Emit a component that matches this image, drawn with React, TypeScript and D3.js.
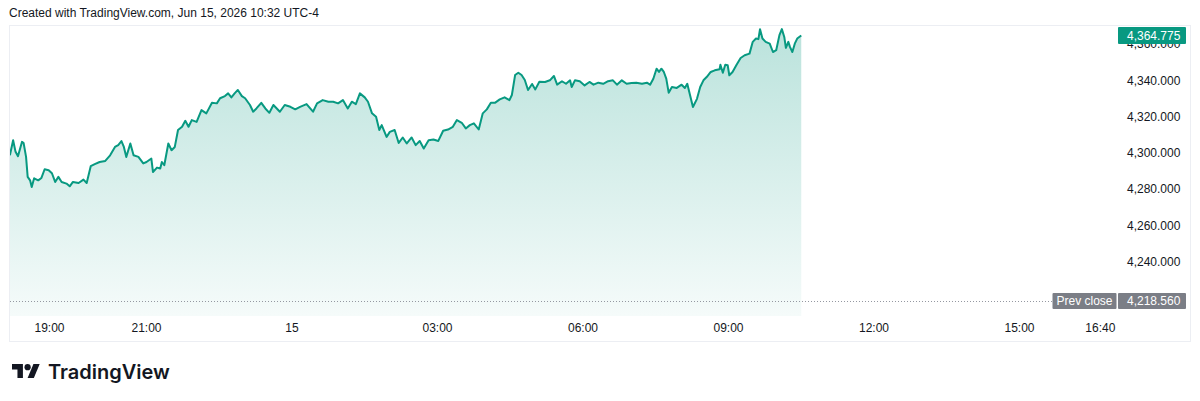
import React from "react";
import * as d3 from "d3";

// price samples, "HH:MM" in UTC-4; the session opens at 18:00 on Jun 14
const eveningSession: [string, number][] = [
  ["18:11", 4298.8], ["18:15", 4307.1], ["18:18", 4300.7], ["18:21", 4298.3], ["18:26", 4306.2],
  ["18:28", 4305.5], ["18:31", 4297.9], ["18:33", 4286.9], ["18:36", 4285.0], ["18:38", 4281.3],
  ["18:41", 4286.1], ["18:46", 4285.0], ["18:50", 4286.3], ["18:54", 4291.1], ["18:59", 4290.6],
  ["19:03", 4288.9], ["19:07", 4284.1], ["19:11", 4286.9], ["19:15", 4284.1], ["19:21", 4283.2],
  ["19:25", 4281.7], ["19:29", 4284.1], ["19:36", 4283.5], ["19:42", 4285.4], ["19:46", 4283.5],
  ["19:51", 4292.8], ["19:56", 4293.9], ["20:02", 4295.1], ["20:09", 4295.7], ["20:15", 4298.8],
  ["20:21", 4303.4], ["20:25", 4304.4], ["20:29", 4306.6], ["20:32", 4303.4], ["20:35", 4297.9],
  ["20:40", 4305.3], ["20:44", 4298.8], ["20:50", 4297.9], ["20:56", 4294.3], ["21:00", 4295.1],
  ["21:06", 4297.0], ["21:08", 4289.6], ["21:13", 4292.0], ["21:17", 4291.5], ["21:19", 4295.1],
  ["21:22", 4293.3], ["21:27", 4305.3], ["21:31", 4301.6], ["21:35", 4303.4], ["21:39", 4312.7],
  ["21:44", 4314.5], ["21:48", 4317.8], ["21:52", 4314.5], ["21:56", 4318.2], ["22:02", 4317.2],
  ["22:08", 4323.7], ["22:14", 4321.9], ["22:21", 4327.7], ["22:27", 4327.4], ["22:31", 4330.2],
  ["22:37", 4331.4], ["22:41", 4332.9], ["22:45", 4330.7], ["22:49", 4332.9], ["22:53", 4334.8],
  ["22:58", 4331.4], ["23:02", 4330.2], ["23:08", 4326.5], ["23:12", 4322.8], ["23:16", 4324.6],
  ["23:22", 4327.7], ["23:27", 4324.6], ["23:32", 4322.2], ["23:37", 4326.5], ["23:45", 4322.8],
  ["23:51", 4326.5], ["23:58", 4325.5]
];

const asiaSession: [string, number][] = [
  ["00:04", 4324.1], ["00:10", 4325.5], ["00:18", 4327.0], ["00:26", 4322.8], ["00:31", 4327.4],
  ["00:38", 4329.2], ["00:45", 4328.3], ["00:51", 4328.3], ["00:57", 4327.4], ["01:03", 4329.2],
  ["01:09", 4324.6], ["01:14", 4328.3], ["01:19", 4327.0], ["01:24", 4332.9], ["01:30", 4330.7],
  ["01:34", 4328.3], ["01:39", 4321.9], ["01:44", 4320.0], ["01:48", 4312.7], ["01:51", 4315.4],
  ["01:57", 4308.9], ["02:01", 4311.7], ["02:07", 4312.7], ["02:12", 4305.6], ["02:17", 4308.6],
  ["02:22", 4305.3], ["02:28", 4308.6], ["02:33", 4304.4], ["02:38", 4306.7], ["02:43", 4302.5],
  ["02:49", 4307.1], ["02:55", 4307.5], ["03:01", 4306.7], ["03:07", 4312.3], ["03:13", 4313.0],
  ["03:19", 4314.5], ["03:24", 4318.2], ["03:30", 4316.7], ["03:35", 4313.6], ["03:40", 4315.4],
  ["03:45", 4316.4], ["03:51", 4313.0], ["03:56", 4321.9], ["04:01", 4324.1], ["04:06", 4327.7],
  ["04:11", 4327.7], ["04:17", 4329.6], ["04:23", 4330.7], ["04:29", 4329.2], ["04:32", 4332.0],
  ["04:36", 4343.0], ["04:40", 4344.3], ["04:44", 4343.0], ["04:48", 4340.3], ["04:52", 4334.8],
  ["04:57", 4338.1], ["05:01", 4335.1], ["05:06", 4339.3], ["05:13", 4339.2], ["05:19", 4340.1],
  ["05:24", 4342.5], ["05:28", 4337.7], ["05:34", 4339.6], ["05:39", 4338.2], ["05:44", 4340.1],
  ["05:46", 4336.4], ["05:50", 4340.1], ["05:56", 4339.6]
];

const morningSession: [string, number][] = [
  ["06:02", 4337.3], ["06:08", 4339.2], ["06:13", 4337.7], ["06:19", 4338.8], ["06:25", 4338.2],
  ["06:31", 4339.6], ["06:37", 4340.1], ["06:42", 4337.7], ["06:48", 4340.1], ["06:54", 4338.2],
  ["07:00", 4338.6], ["07:06", 4338.8], ["07:13", 4338.2], ["07:19", 4338.8], ["07:23", 4337.7],
  ["07:27", 4341.0], ["07:31", 4346.5], ["07:34", 4344.7], ["07:37", 4346.5], ["07:40", 4344.7],
  ["07:43", 4341.0], ["07:46", 4333.3], ["07:50", 4336.4], ["07:56", 4335.9], ["08:02", 4337.7],
  ["08:06", 4335.9], ["08:09", 4338.2], ["08:12", 4332.7], ["08:16", 4325.4], ["08:21", 4329.9],
  ["08:25", 4336.4], ["08:29", 4340.1], ["08:33", 4341.9], ["08:38", 4344.7], ["08:43", 4345.6],
  ["08:49", 4346.2], ["08:50", 4348.7], ["08:53", 4344.3], ["08:56", 4348.7], ["08:59", 4348.4],
  ["09:01", 4342.9], ["09:05", 4344.7], ["09:10", 4348.7], ["09:15", 4352.4], ["09:20", 4353.9],
  ["09:26", 4354.8], ["09:30", 4361.3], ["09:34", 4363.1], ["09:37", 4362.8], ["09:39", 4368.3],
  ["09:42", 4363.1], ["09:46", 4361.3], ["09:51", 4360.3], ["09:55", 4355.7], ["09:59", 4356.7],
  ["10:03", 4365.0], ["10:06", 4368.3], ["10:09", 4364.0], ["10:11", 4358.0], ["10:14", 4361.3],
  ["10:16", 4358.5], ["10:19", 4355.7], ["10:22", 4360.3], ["10:25", 4363.1], ["10:30", 4364.775]
];

const priceTicks = [4360, 4340, 4320, 4300, 4280, 4260, 4240];
const timeTicks = ["19:00", "21:00", "00:00", "03:00", "06:00", "09:00", "12:00", "15:00", "16:40"];
const timeTickLabels = ["19:00", "21:00", "15", "03:00", "06:00", "09:00", "12:00", "15:00", "16:40"];
const prevClose = 4218.56;
const lastPrice = 4364.775;

const GREEN = "#089981";
const FONT = "'Liberation Sans', Arial, sans-serif";

function toDate(hhmm: string) {
  const [h, m] = hhmm.split(":").map(Number);
  // anything from 18:00 on belongs to the previous calendar day
  return new Date(2026, 5, h >= 18 ? 14 : 15, h, m);
}

export default function App() {
  const data = [...eveningSession, ...asiaSession, ...morningSession].map(d => ({
    t: toDate(d[0]),
    v: d[1]
  }));

  const plot = { left: 10, right: 1110, top: 26, bottom: 316 };

  const xScale = d3
    .scaleTime()
    .domain([new Date(2026, 5, 14, 18, 0), new Date(2026, 5, 15, 17, 0)])
    .range([1, 1 + 23 * 48.5]);

  const yScale = d3.scaleLinear().domain([4240, 4340]).range([262, 80.5]);
  const fmt = d3.format(",.3f");

  const line = d3
    .line<{ t: Date; v: number }>()
    .x(d => xScale(d.t))
    .y(d => yScale(d.v));

  const area = d3
    .area<{ t: Date; v: number }>()
    .x(d => xScale(d.t))
    .y0(plot.bottom)
    .y1(d => yScale(d.v));

  const lastY = yScale(lastPrice);
  const prevY = yScale(prevClose);

  return (
    <svg
      width={1200}
      height={401}
      style={{ position: "absolute", left: 0, top: 0, background: "#fff" }}
      fontFamily={FONT}
    >
      <defs>
        <linearGradient id="fill" x1="0" y1={plot.top} x2="0" y2={plot.bottom} gradientUnits="userSpaceOnUse">
          <stop offset="0%" stopColor={GREEN} stopOpacity={0.28} />
          <stop offset="100%" stopColor={GREEN} stopOpacity={0.04} />
        </linearGradient>
        <clipPath id="plotClip">
          <rect x={plot.left} y={plot.top} width={plot.right - plot.left} height={plot.bottom - plot.top} />
        </clipPath>
      </defs>

      <rect width={1200} height={401} fill="#fff" />

      <text x={9} y={17} fontSize={12} fill="#131722">
        Created with TradingView.com, Jun 15, 2026 10:32 UTC-4
      </text>

      {/* chart frame */}
      <rect x={9.5} y={25.5} width={1181} height={316} fill="none" stroke="#eceef3" />

      <g clipPath="url(#plotClip)">
        <path d={area(data) || ""} fill="url(#fill)" />
        <path d={line(data) || ""} fill="none" stroke={GREEN} strokeWidth={2} strokeLinejoin="round" />
      </g>

      {/* prev close dotted line */}
      <line
        x1={plot.left}
        x2={1052}
        y1={Math.round(prevY) + 0.5}
        y2={Math.round(prevY) + 0.5}
        stroke="#9598a1"
        strokeDasharray="1 2"
      />

      {/* price axis */}
      <g>
        {priceTicks.map(p => (
          <text key={p} x={1127} y={yScale(p)} dominantBaseline="central" fontSize={12} fill="#131722">
            {fmt(p)}
          </text>
        ))}
      </g>

      <g>
        <rect x={1118} y={lastY - 8.5} width={68} height={17} fill={GREEN} rx={1} />
        <text x={1127} y={lastY} dominantBaseline="central" fontSize={12} fill="#fff">
          {fmt(lastPrice)}
        </text>
      </g>

      <g>
        <rect x={1052.5} y={prevY - 8} width={64} height={16} fill="#7b7e86" rx={1} />
        <text x={1084.5} y={prevY} dominantBaseline="central" textAnchor="middle" fontSize={12} fill="#fff">
          Prev close
        </text>
        <rect x={1118} y={prevY - 8} width={68} height={16} fill="#7b7e86" rx={1} />
        <text x={1127} y={prevY} dominantBaseline="central" fontSize={12} fill="#fff">
          {fmt(prevClose)}
        </text>
      </g>

      {/* time axis */}
      <g>
        {timeTicks.map((t, i) => (
          <text
            key={t}
            x={xScale(toDate(t))}
            y={328}
            dominantBaseline="central"
            textAnchor="middle"
            fontSize={12}
            fill="#131722"
          >
            {timeTickLabels[i]}
          </text>
        ))}
      </g>

      {/* TradingView logo */}
      <g transform="translate(12,360.9) scale(0.78)" fill="#131722">
        <path d="M14 22H7V11H0V4h14v18z" />
        <path d="M28 22h-8l7.5-18h8L28 22z" />
        <circle cx={20} cy={8} r={4} />
      </g>
      <text x={48} y={378.5} fontSize={20} fontWeight={600} fill="#131722" fontFamily="Inter, 'Noto Sans', sans-serif">
        TradingView
      </text>
    </svg>
  );
}
